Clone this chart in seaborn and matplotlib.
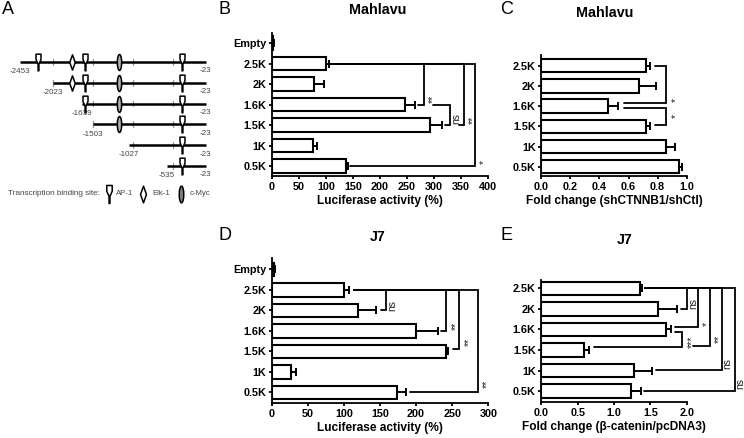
"""Promoter constructs and luciferase / fold change panels, Mahlavu and J7."""
import matplotlib
matplotlib.use("Agg")
import matplotlib.pyplot as plt
from matplotlib.path import Path
import pandas as pd
import seaborn as sns

W, H = 744, 438

# ── Data ───────────────────────────────────────────────────────────
cats_empty = ["Empty", "2.5K", "2K", "1.6K", "1.5K", "1K", "0.5K"]
cats = ["2.5K", "2K", "1.6K", "1.5K", "1K", "0.5K"]

b_vals = [3, 101, 79, 247, 293, 77, 137]
b_tops = [4, 106, 97, 265, 315, 84, 141]
c_vals = [0.72, 0.67, 0.46, 0.72, 0.86, 0.95]
c_tops = [0.75, 0.79, 0.53, 0.75, 0.92, 0.97]
d_vals = [3, 100, 119, 200, 242, 27, 173]
d_tops = [5, 107, 145, 230, 244, 34, 186]
e_vals = [1.36, 1.60, 1.72, 0.59, 1.28, 1.23]
e_tops = [1.38, 1.86, 1.79, 0.65, 1.52, 1.37]

# (y top, y bottom, x vertical, x top stub, x bottom stub, label, label x, label y)
b_brackets = [
    (1, 3, 282, 106, 270, "**", 292, 2.72),
    (3, 4, 329, 298, 320, "ns", 340, 3.67),
    (1, 4, 355, 106, 345, "**", 365, 3.75),
    (1, 6, 375, 106, 145, "*", 385, 5.78),
]
c_brackets = [
    (0, 1.84, 0.86, 0.78, 0.57, "*", 0.90, 1.70),
    (2.10, 2.92, 0.86, 0.57, 0.78, "*", 0.90, 2.46),
]
d_brackets = [
    (1, 2, 159, 114, 152, "ns", 167, 1.74),
    (1, 3.03, 241, 114, 235, "**", 250, 2.76),
    (1, 3.9, 260, 114, 251, "**", 268, 3.53),
    (1, 6, 286, 114, 191, "**", 293, 5.56),
]
e_brackets = [
    (0, 1, 2.00, 1.43, 1.92, "ns", 2.09, 0.72),
    (0, 1.87, 2.16, 1.43, 1.84, "*", 2.23, 1.75),
    (2.11, 2.84, 1.94, 1.84, 0.72, "***", 2.03, 2.60),
    (0, 2.81, 2.32, 1.43, 2.09, "**", 2.40, 2.48),
    (0, 3.98, 2.48, 1.43, 1.58, "ns", 2.56, 3.65),
    (0, 4.98, 2.66, 1.43, 1.41, "ns", 2.74, 4.63),
]

# promoter schematic, positions in bp
starts = [-2453, -2023, -1639, -1503, -1027, -535]
end_bp = -23
start_labels = ["-2453", "-2023", "-1639", "-1503", "-1027", "-535"]
ap1_sites = [-2217, -1602, -333]
elk1_sites = [-1772]
myc_sites = [-1157]
gray_ticks = [-2021, -1497, -974, -450]

# ── Style ──────────────────────────────────────────────────────────
sns.set_style("ticks")
plt.rcParams.update({
    "font.family": ["Liberation Sans", "DejaVu Sans"],
    "axes.linewidth": 1.3,
    "xtick.major.width": 1.3,
    "ytick.major.width": 1.3,
    "xtick.major.size": 2.5,
    "ytick.major.size": 2.5,
    "xtick.major.pad": 2,
    "ytick.major.pad": 1.5,
    "axes.edgecolor": "black",
    "axes.labelcolor": "black",
    "xtick.color": "black",
    "ytick.color": "black",
    "text.color": "black",
})

fig = plt.figure(figsize=(W / 100, H / 100), dpi=100, facecolor="white")


def axes_px(left, top, right, bottom):
    return fig.add_axes([left / W, 1 - bottom / H, (right - left) / W, (bottom - top) / H])


def text_px(x, y, s, **kw):
    fig.text(x / W, 1 - y / H, s, ha="center", va="center", **kw)


def hbar_panel(box, order, vals, tops, ylim, xlim, xticks, fmt, xlabel, brackets):
    """White horizontal bars with one-sided error bars and significance brackets."""
    ax = axes_px(*box)
    df = pd.DataFrame({"construct": order, "value": vals})
    sns.barplot(data=df, x="value", y="construct", order=order, color="white", saturation=1,
                edgecolor="black", linewidth=1.5, width=0.66, errorbar=None, ax=ax)
    ypos = range(len(order))
    ax.errorbar(vals, ypos, xerr=[[0] * len(vals), [t - v for t, v in zip(tops, vals)]],
                fmt="none", ecolor="black", elinewidth=1.4, capsize=3, capthick=1.4, clip_on=False)
    ax.set_xlim(*xlim)
    ax.set_ylim(*ylim)
    ax.set_xticks(xticks)
    ax.set_xticklabels([fmt.format(t) for t in xticks], fontsize=7.8, fontweight="bold")
    for lab in ax.get_yticklabels():
        lab.set_fontsize(7.8)
        lab.set_fontweight("bold")
    ax.set_ylabel("")
    ax.set_xlabel(xlabel, fontsize=8.6, fontweight="bold", labelpad=2)
    sns.despine(ax=ax)
    for y0, y1, xv, x0, x1, label, lx, ly in brackets:
        ax.plot([x0, xv, xv, x1], [y0, y0, y1, y1], color="black", lw=1.3, clip_on=False,
                solid_joinstyle="miter")
        # rotated asterisks sit left of their box, so push them off the bracket
        shift = 2.5 if "*" in label else 0
        ax.annotate(label, (lx, ly), xytext=(shift, 0), textcoords="offset points", rotation=90,
                    ha="center", va="center", fontsize=7.5, color="#222222", annotation_clip=False)
    return ax


hbar_panel((271.7, 33, 488.3, 175.7), cats_empty, b_vals, b_tops, (6.47, -0.49), (0, 400),
           list(range(0, 401, 50)), "{:d}", "Luciferase activity (%)", b_brackets)
hbar_panel((541.3, 55, 686.7, 175.5), cats, c_vals, c_tops, (5.43, -0.53), (0, 1),
           [0, 0.2, 0.4, 0.6, 0.8, 1.0], "{:.1f}", "Fold change (shCTNNB1/shCtl)", c_brackets)
hbar_panel((271.7, 258, 488.3, 402.7), cats_empty, d_vals, d_tops, (6.5, -0.55), (0, 300),
           list(range(0, 301, 50)), "{:d}", "Luciferase activity (%)", d_brackets)
hbar_panel((541.3, 280, 686.7, 401.7), cats, e_vals, e_tops, (5.52, -0.41), (0, 2),
           [0, 0.5, 1.0, 1.5, 2.0], "{:.1f}", "Fold change (β-catenin/pcDNA3)", e_brackets)

# ── Panel A schematic ──────────────────────────────────────────────
ax_a = axes_px(0, 0, 225, 230)
px_per_bp = 0.0764
row_px = 20.9
ax_a.set_xlim(-2453 - 20 / px_per_bp, -2453 + 205 / px_per_bp)
ax_a.set_ylim(230 / row_px - 61.7 / row_px, -61.7 / row_px)
ax_a.axis("off")

ap1_marker = Path([(-0.3, 1), (0.3, 1), (0.3, 0.35), (0.05, -0.2), (0.05, -1), (-0.05, -1),
                   (-0.05, -0.2), (-0.3, 0.35), (-0.3, 1)], closed=True)
elk_marker = Path([(0, 1), (0.36, 0), (0, -1), (-0.36, 0), (0, 1)], closed=True)
ell = Path.unit_circle()
myc_marker = Path(ell.vertices * [0.27, 1], ell.codes)


def site(x, y, marker, size, face="white"):
    ax_a.plot([x], [y], marker=marker, ms=size, mfc=face, mec="black", mew=1.1, ls="none", zorder=4,
              clip_on=False)


for row, start in enumerate(starts):
    ax_a.plot([start, end_bp], [row, row], color="black", lw=1.8, zorder=2, solid_capstyle="butt")
    for g in gray_ticks:
        if g >= start:
            ax_a.plot([g, g], [row - 0.14, row + 0.14], color="#999999", lw=0.9, zorder=1)
    for s in ap1_sites:
        if s >= start:
            site(s, row, ap1_marker, 12)
    for s in elk1_sites:
        if s >= start:
            site(s, row, elk_marker, 11)
    for s in myc_sites:
        if s >= start:
            site(s, row, myc_marker, 11.5, "#b0b0b0")
    ax_a.text(start, row + 0.46, start_labels[row], ha="center", va="center", fontsize=5.8, color="#444444")
    ax_a.text(end_bp, row + 0.42, str(end_bp), ha="center", va="center", fontsize=5.8, color="#444444")

legend_row = 6.33
text_px(53.5, 194, "Transcription binding site:", fontsize=5.9, color="#444444")
for px_x, marker, size, face in [(109, ap1_marker, 13, "white"), (143, elk_marker, 12, "white"),
                                 (181, myc_marker, 12, "#808080")]:
    site(-2453 + (px_x - 20) / px_per_bp, legend_row, marker, size, face)
text_px(125, 194, "AP-1", fontsize=5.6, color="#444444")
text_px(161, 194, "Elk-1", fontsize=5.6, color="#444444")
text_px(200, 194, "c-Myc", fontsize=5.6, color="#444444")

# ── Titles and panel letters ───────────────────────────────────────
text_px(378, 10, "Mahlavu", fontsize=10.3, fontweight="bold")
text_px(605, 13, "Mahlavu", fontsize=10.3, fontweight="bold")
text_px(378, 237, "J7", fontsize=10.3, fontweight="bold")
text_px(625, 240, "J7", fontsize=10.3, fontweight="bold")
for x, y, letter in [(8, 10, "A"), (225, 9, "B"), (507, 9, "C"), (225, 236, "D"), (507, 235, "E")]:
    text_px(x, y, letter, fontsize=13)

fig.savefig("out.png", dpi=100, facecolor="white")
